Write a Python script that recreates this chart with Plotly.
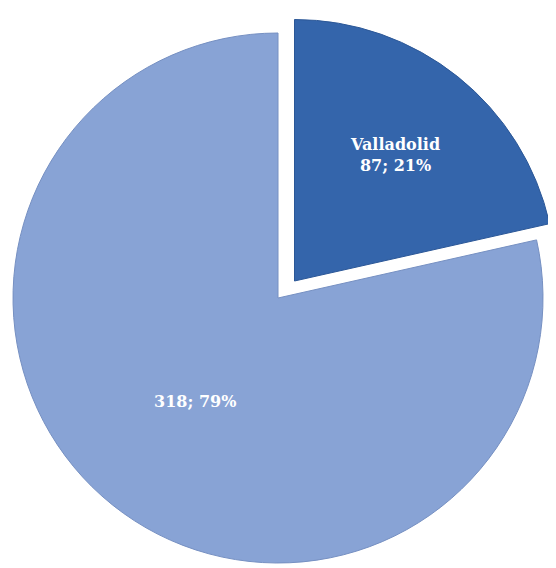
import plotly.graph_objects as go

# data
labels = ["Valladolid", "Resto"]
values = [87, 318]

# page body has an 8px margin, so the figure is drawn 8px smaller / shifted
OFF = 8
W, H = 556 - OFF, 568 - OFF
light = "#88a3d5"
dark = "#3465ab"


def dom(cx, cy, r):
    # window pixel centre / radius -> paper domain
    cx, cy = cx - OFF, cy - OFF
    return dict(x=[max((cx - r) / W, 0.0), min((cx + r) / W, 1.0)],
                y=[max(1 - (cy + r) / H, 0.0), min(1 - (cy - r) / H, 1.0)])


fig = go.Figure()

# main pie (big slice only)
fig.add_trace(go.Pie(
    labels=labels, values=values, sort=False, direction="clockwise", rotation=0,
    domain=dom(278, 298, 265),
    marker=dict(colors=["rgba(0,0,0,0)", light],
                line=dict(width=1, color=["rgba(0,0,0,0)", "#7690c2"])),
    texttemplate=["", "%{value}; %{percent:.0%}"],
    textposition="inside", insidetextorientation="horizontal",
    textfont=dict(family="DejaVu Serif", size=16, color="white", weight="bold"),
    hoverinfo="skip", showlegend=False,
))

# exploded slice
fig.add_trace(go.Pie(
    labels=labels, values=values, sort=False, direction="clockwise", rotation=0,
    domain=dom(295, 281, 262),
    marker=dict(colors=[dark, "rgba(0,0,0,0)"],
                line=dict(width=1, color=["#2b5797", "rgba(0,0,0,0)"])),
    texttemplate=["%{label}<br>%{value}; %{percent:.0%}", ""],
    textposition="inside", insidetextorientation="horizontal",
    textfont=dict(family="DejaVu Serif", size=16, color="white", weight="bold"),
    hoverinfo="skip", showlegend=False,
))

fig.update_layout(width=W, height=H, margin=dict(l=0, r=0, t=0, b=0),
                  paper_bgcolor="white", plot_bgcolor="white")

fig.write_html("out.html")
